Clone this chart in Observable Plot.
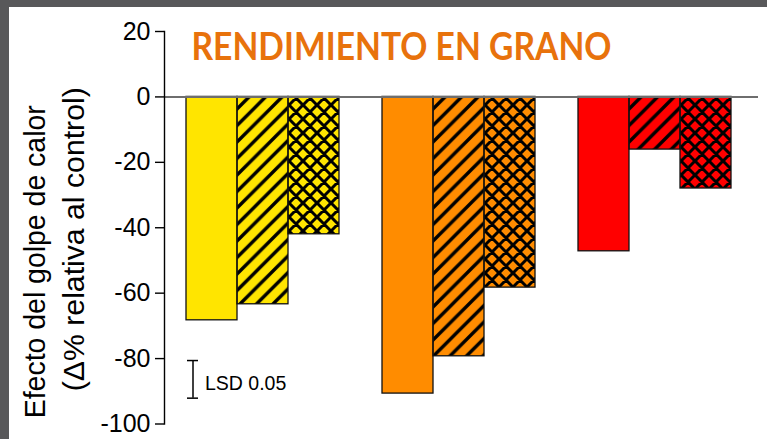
<!DOCTYPE html>
<html>
<head>
<meta charset="utf-8">
<script src="https://cdn.jsdelivr.net/npm/d3@7"></script>
<script src="https://cdn.jsdelivr.net/npm/@observablehq/plot@0.6"></script>
<style>
  html, body { margin: 0; padding: 0; background: #58585a; width: 767px; height: 439px; overflow: hidden; }
  #lamina { position: absolute; left: 9px; top: 7px; width: 758px; height: 432px; background: #fff; }
  #lamina svg { display: block; }
</style>
</head>
<body>
<div id="lamina"></div>
<script>
// Grupos (color de barra) y tratamientos (relleno: liso, rayado, cuadriculado)
const grupos = ["amarillo", "naranja", "rojo"];
const colores = ["#ffe500", "#ff8c00", "#ff0000"];
const tratamientos = ["liso", "rayado", "cuadriculado"];

// Efecto del golpe de calor sobre el rendimiento (% relativo al control)
const valoresAmarillo = [-68.3, -63.4, -42.0];
const valoresNaranja = [-90.7, -79.3, -58.3];
const valoresRojo = [-47.2, -16.1, -28.0];

const ticksY = [20, 0, -20, -40, -60, -80, -100];

const titulo = "RENDIMIENTO EN GRANO";
const ejeY1 = "Efecto del golpe de calor";
const ejeY2 = "(\u0394% relativa al control)";

// Barra de diferencia mínima significativa
const lsdEtiqueta = "LSD 0.05";
const lsdSuperior = -80.6;
const lsd = 11.5;

const valores = [valoresAmarillo, valoresNaranja, valoresRojo];
const filas = grupos.flatMap((g, i) =>
  tratamientos.map((t, j) => ({grupo: g, tratamiento: t, valor: valores[i][j]}))
);
const primero = {grupo: grupos[0], tratamiento: tratamientos[0]};

const fuente = "'Liberation Sans', Arial, sans-serif";

const chart = Plot.plot({
  width: 758,
  height: 432,
  marginLeft: 155,
  marginRight: 15,
  marginTop: 24,
  marginBottom: 15.5,
  style: {fontFamily: fuente, background: "#fff", color: "#000", overflow: "visible"},
  fx: {domain: grupos, padding: 0, axis: null},
  x: {domain: tratamientos, paddingInner: 0, paddingOuter: 0.4, axis: null},
  y: {domain: [-100, 20], axis: null},
  color: {domain: grupos, range: colores},
  marks: [
    Plot.barY(filas, {fx: "grupo", x: "tratamiento", y: "valor", fill: "grupo"}),
    Plot.barY(filas.filter(d => d.tratamiento === "rayado"),
      {fx: "grupo", x: "tratamiento", y: "valor", fill: "url(#rayado)"}),
    Plot.barY(filas.filter(d => d.tratamiento === "cuadriculado"),
      {fx: "grupo", x: "tratamiento", y: "valor", fill: "url(#cuadriculado)"}),
    Plot.barY(filas, {fx: "grupo", x: "tratamiento", y: "valor", fill: "none", stroke: "#111", strokeWidth: 1.3}),
    Plot.ruleY([0], {stroke: "#6e6e6e", strokeWidth: 2, insetRight: -6}),
    Plot.axisY({
      ticks: ticksY, tickSize: 9, tickPadding: 5, fontSize: 25, label: null,
      tickFormat: d => String(d), stroke: "#000", strokeWidth: 1.4
    }),
    Plot.frame({anchor: "left", facetAnchor: "left", stroke: "#000", strokeWidth: 1.4}),
    // barra LSD
    Plot.ruleX([primero], {fx: "grupo", x: "tratamiento", y1: lsdSuperior, y2: lsdSuperior - lsd,
      dx: -19, stroke: "#000", strokeWidth: 1.5}),
    Plot.tickY([lsdSuperior, lsdSuperior - lsd].map(y => ({...primero, y})),
      {fx: "grupo", x: "tratamiento", y: "y", dx: -19, insetLeft: 20, insetRight: 20, stroke: "#000", strokeWidth: 1.5}),
    Plot.text([primero], {fx: "grupo", x: "tratamiento", y: lsdSuperior - lsd / 2, text: () => lsdEtiqueta,
      dx: -7, dy: 4, textAnchor: "start", fontSize: 19.5, fill: "#000"}),
    // títulos
    Plot.text([primero], {fx: "grupo", text: () => titulo, frameAnchor: "top-left", textAnchor: "start",
      lineAnchor: "middle", dx: 27, dy: 16, fontSize: 38, fontWeight: "bold",
      fontFamily: "Lato, 'Open Sans', sans-serif", fill: "#e8720c", className: "titulo"}),
    Plot.text([primero], {fx: "grupo", text: () => ejeY1, frameAnchor: "left", rotate: -90,
      textAnchor: "middle", lineAnchor: "middle", dx: -129, dy: 34, fontSize: 30, fill: "#000",
      className: "eje-y1"}),
    Plot.text([primero], {fx: "grupo", text: () => ejeY2, frameAnchor: "left", rotate: -90,
      textAnchor: "middle", lineAnchor: "middle", dx: -90, dy: 11.5, fontSize: 30, fill: "#000",
      className: "eje-y2"})
  ]
});

// Textos algo condensados, como en la lámina original
const svg = d3.select(chart);
svg.selectAll(".titulo text").attr("textLength", 420).attr("lengthAdjust", "spacingAndGlyphs");
svg.selectAll(".eje-y1 text").attr("textLength", 313).attr("lengthAdjust", "spacingAndGlyphs");
svg.selectAll(".eje-y2 text").attr("textLength", 304).attr("lengthAdjust", "spacingAndGlyphs");

// Patrones de relleno: rayado diagonal y cuadriculado
const defs = svg.insert("defs", ":first-child");
const h = 16.5;
defs.append("pattern").attr("id", "rayado").attr("patternUnits", "userSpaceOnUse")
  .attr("width", h).attr("height", h)
  .append("path")
  .attr("d", `M0,${h}L${h},0M${-h / 2},${h / 2}L${h / 2},${-h / 2}M${h / 2},${1.5 * h}L${1.5 * h},${h / 2}`)
  .attr("stroke", "#000").attr("stroke-width", 3.4).attr("fill", "none");
const c = 14;
defs.append("pattern").attr("id", "cuadriculado").attr("patternUnits", "userSpaceOnUse")
  .attr("width", c).attr("height", c)
  .append("path")
  .attr("d", `M0,${c}L${c},0M${-c / 2},${c / 2}L${c / 2},${-c / 2}M${c / 2},${1.5 * c}L${1.5 * c},${c / 2}` +
             `M0,0L${c},${c}M${-c / 2},${c / 2}L${c / 2},${1.5 * c}M${c / 2},${-c / 2}L${1.5 * c},${c / 2}`)
  .attr("stroke", "#000").attr("stroke-width", 3).attr("fill", "none");

document.getElementById("lamina").appendChild(chart);
</script>
</body>
</html>
